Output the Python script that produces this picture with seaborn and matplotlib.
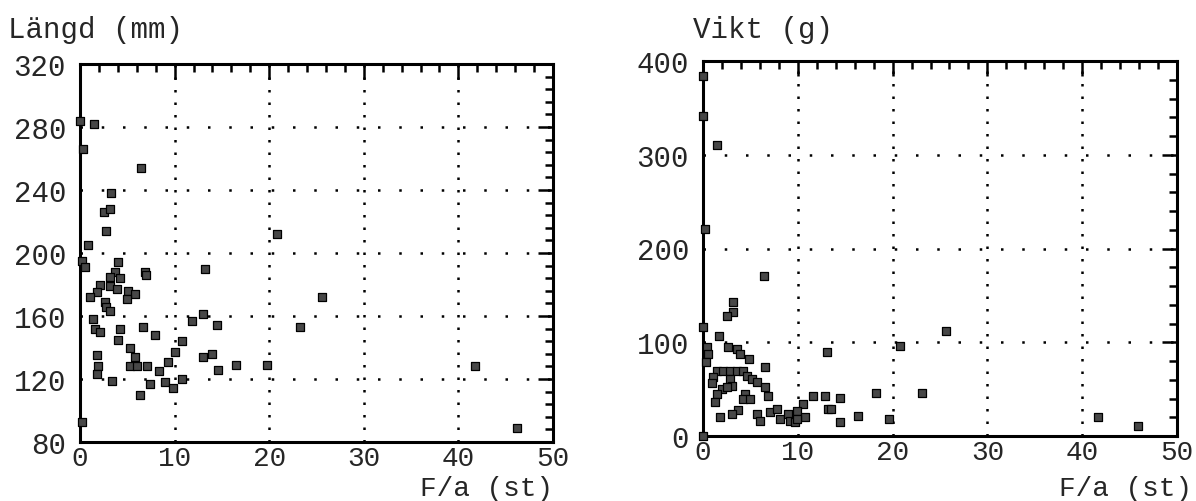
import matplotlib
matplotlib.use("Agg")
import matplotlib.pyplot as plt
from matplotlib.ticker import MultipleLocator
import seaborn as sns
import pandas as pd

# ---- data: left panel, length (mm) vs F/a (st)
len_x = [0, 1.5, 0.3, 6.5, 3.3, 2.5, 3.2, 2.7, 0.8, 0.2, 0.5, 4.0, 3.7, 3.2, 4.2,
         6.9, 7.0, 2.1, 3.2, 3.9, 1.8, 1.1, 5.1, 5.8, 5.0, 2.6, 2.8, 3.2, 1.4, 11.8,
         1.6, 2.1, 4.2, 6.7, 7.9, 4.0, 10.8, 5.3, 10.0, 1.8, 5.8, 1.9, 5.3, 6.0, 7.1,
         9.3, 8.3, 1.8, 3.4, 7.4, 9.0, 9.8, 10.8, 6.3, 0.2, 20.8, 13.2, 25.6, 13.0,
         14.5, 23.3, 13.0, 14.0, 14.6, 16.5, 19.8, 41.8, 46.2]
len_y = [284, 282, 266, 254, 238, 226, 228, 214, 205, 195, 191, 194, 188, 185, 184,
         188, 186, 180, 179, 177, 175, 172, 176, 174, 171, 169, 166, 163, 158, 157,
         152, 150, 152, 153, 148, 145, 144, 140, 137, 135, 134, 128, 128, 128, 128,
         131, 125, 123, 119, 117, 118, 114, 120, 110, 93, 212, 190, 172, 161,
         154, 153, 134, 136, 126, 129, 129, 128, 89]

# ---- data: right panel, weight (g) vs F/a (st)
wt_x = [0, 0, 1.5, 0.2, 6.4, 3.2, 3.2, 2.5, 0, 1.7, 13.1, 0.4, 0.5, 2.6, 3.6, 3.9,
        4.8, 0.3, 6.5, 1.5, 2.1, 2.9, 3.6, 4.2, 4.6, 5.2, 5.7, 1.1, 1.0, 2.9, 3.1,
        6.5, 2.0, 2.5, 1.5, 6.9, 4.4, 4.2, 5.0, 1.3, 10.6, 11.6, 12.9, 14.5, 18.2,
        13.2, 13.5, 3.7, 3.1, 1.8, 5.7, 6.0, 7.1, 7.8, 8.1, 9.0, 9.9, 10.8, 9.2,
        9.7, 9.9, 14.5, 16.4, 19.6, 0, 25.6, 20.8, 23.1, 41.7, 45.9]
wt_y = [384, 341, 310, 221, 171, 143, 132, 128, 116, 107, 90, 95, 87, 95, 93, 87,
        82, 79, 74, 69, 69, 69, 69, 69, 64, 61, 58, 63, 57, 61, 53,
        52, 50, 52, 45, 43, 45, 40, 40, 36, 34, 43, 43, 41, 46,
        29, 29, 28, 24, 20, 24, 16, 26, 29, 18, 24, 27, 20, 16,
        15, 18, 15, 21, 18, 0, 112, 96, 46, 20, 11]

x_ticks = [0, 10, 20, 30, 40, 50]
len_ticks = [80, 120, 160, 200, 240, 280, 320]
wt_ticks = [0, 100, 200, 300, 400]

sns.set_style("white")
plt.rcParams['font.family'] = ['Liberation Mono', 'DejaVu Sans Mono']

fig = plt.figure(figsize=(11.96, 5.02), dpi=100)
axL = fig.add_axes([80/1196, 1-443/502, (553-80)/1196, (443-65)/502])
axR = fig.add_axes([703/1196, 1-437/502, (1177-703)/1196, (437-62)/502])

def style(ax, yticks, ymin_step):
    ax.set_xlim(0, 50)
    ax.set_ylim(yticks[0], yticks[-1])
    ax.set_xticks(x_ticks)
    ax.set_yticks(yticks)
    ax.xaxis.set_minor_locator(MultipleLocator(2))
    ax.yaxis.set_minor_locator(MultipleLocator(ymin_step))
    for s in ax.spines.values():
        s.set_visible(True)
        s.set_color('black')
        s.set_linewidth(2.2)
    ax.tick_params(which='both', direction='in', top=True, right=True,
                   color='black', width=1.8)
    ax.tick_params(which='major', length=11, labelsize=21)
    ax.tick_params(axis='x', which='major', pad=2, labelsize=20)
    ax.tick_params(which='minor', length=6)
    ax.tick_params(axis='y', which='major', pad=10)
    # dotted grid (horizontal sparse dots, vertical dense dots)
    for t in x_ticks[1:-1]:
        ax.axvline(t, color='black', lw=1.8, linestyle=(0, (1, 4)), zorder=1)
    for t in yticks[1:-1]:
        ax.axhline(t, color='black', lw=1.8, linestyle=(0, (1, 7.5)), zorder=1)
    ax.set_xlabel('')
    ax.set_ylabel('')

dfL = pd.DataFrame({'x': len_x, 'y': len_y})
dfR = pd.DataFrame({'x': wt_x, 'y': wt_y})
sns.scatterplot(data=dfL, x='x', y='y', ax=axL, marker='s', s=34,
                color='#474747', edgecolor='black', linewidth=0.9, zorder=3, clip_on=False)
sns.scatterplot(data=dfR, x='x', y='y', ax=axR, marker='s', s=34,
                color='#474747', edgecolor='black', linewidth=0.9, zorder=3, clip_on=False)

style(axL, len_ticks, 8)
style(axR, wt_ticks, 20)

fig.text(8/1196, 1-30/502, 'Längd (mm)', fontsize=21, va='center', ha='left')
fig.text(693/1196, 1-30/502, 'Vikt (g)', fontsize=21, va='center', ha='left')
fig.text(553/1196, 1-502/502, 'F/a (st)', fontsize=20, va='bottom', ha='right')
fig.text(1192/1196, 1-502/502, 'F/a (st)', fontsize=20, va='bottom', ha='right')

fig.savefig('out.png', dpi=100)
